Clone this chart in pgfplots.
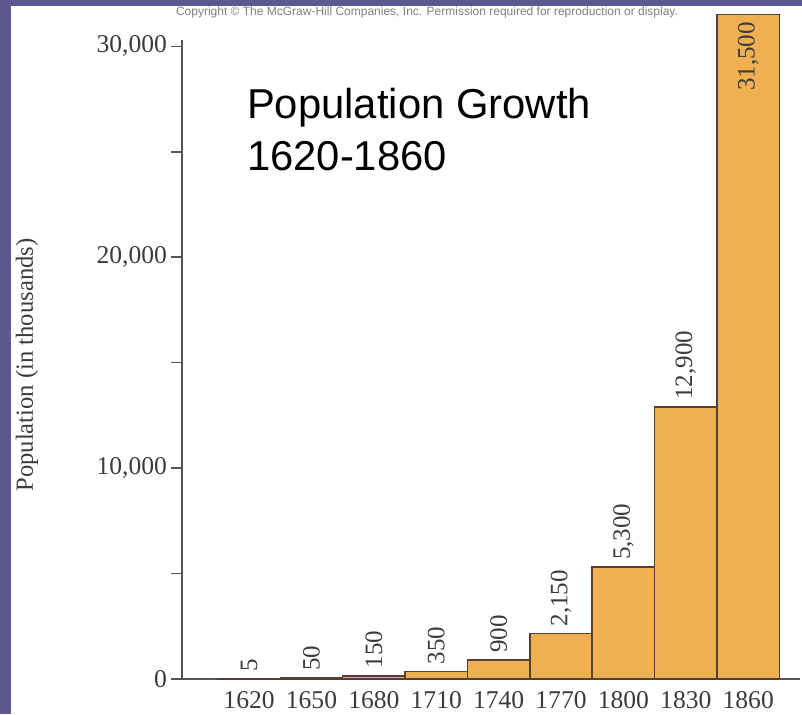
\documentclass[border=0pt]{standalone}
\usepackage{fontspec}
\setmainfont{Liberation Serif}
\newfontfamily\arialfont{Liberation Sans}
\usepackage{pgfplots}
\pgfplotsset{compat=1.18}

\definecolor{barfill}{RGB}{240,175,80}
\definecolor{barline}{RGB}{82,64,52}
\definecolor{slideframe}{RGB}{91,89,143}
\definecolor{axgray}{RGB}{85,85,85}
\definecolor{txtgray}{RGB}{60,60,60}

\begin{document}
\begin{tikzpicture}
\fill[white] (0pt,0pt) rectangle (401pt,357pt);
\fill[slideframe] (0pt,0pt) rectangle (5.5pt,357pt);
\fill[slideframe] (0pt,354pt) rectangle (401pt,357pt);
\path[use as bounding box] (0pt,0pt) rectangle (401pt,357pt);
\node[font=\arialfont\fontsize{6}{7}\selectfont, text=gray] at (213.5pt,351pt)
  {Copyright © The McGraw-Hill Companies, Inc. Permission required for reproduction or display.};
\node[rotate=90, font=\fontsize{12.3}{14}\selectfont, text=txtgray] at (13.5pt,174.5pt)
  {Population (in thousands)};
\begin{axis}[
    at={(91pt,17.5pt)}, anchor=south west,
    scale only axis, width=309pt, height=319.5pt,
    xmin=-1.075, xmax=8.83, ymin=0, ymax=30300,
    clip=false,
    axis x line=bottom, axis y line=left,
    axis line style={-, axgray, line width=0.75pt},
    xtick={0,...,8},
    xticklabels={1620,1650,1680,1710,1740,1770,1800,1830,1860},
    xtick style={draw=none},
    ytick={0,10000,20000,30000},
    minor ytick={5000,15000,25000},
    ytick style={axgray, line width=0.75pt},
    minor y tick style={axgray, line width=0.75pt},
    tick align=outside,
    major tick length=5.5pt, minor tick length=5.5pt,
    scaled y ticks=false,
    tick label style={font=\fontsize{12.8}{14}\selectfont, text=txtgray},
    xticklabel style={yshift=3pt},
    yticklabel style={xshift=1.5pt},
    /pgf/number format/.cd, assume math mode=true, 1000 sep={,}, fixed,
  ]
  % population in thousands; labels sit above the bars
  \addplot[ybar, bar width=1, bar shift=0pt, fill=barfill, draw=barline, line width=0.75pt,
    point meta=explicit symbolic, nodes near coords,
    every node near coord/.append style={rotate=90, anchor=west,
      font=\fontsize{12.5}{14}\selectfont, text=txtgray}]
    coordinates {(0,5) [5] (1,50) [50] (2,150) [150] (3,350) [350] (4,900) [900]
      (5,2150) [2,150] (6,5300) [5,300] (7,12900) [12,900]};
  % the tallest bar carries its label inside
  \addplot[ybar, bar width=1, bar shift=0pt, fill=barfill, draw=barline, line width=0.75pt,
    point meta=explicit symbolic, nodes near coords,
    every node near coord/.append style={rotate=90, anchor=east,
      font=\fontsize{12.5}{14}\selectfont, text=txtgray}]
    coordinates {(8,31500) [31,500]};
\end{axis}
\node[anchor=base west, font=\arialfont\fontsize{20.9}{24}\selectfont] at (120pt,298pt) {Population Growth};
\node[anchor=base west, font=\arialfont\fontsize{20.9}{24}\selectfont] at (120pt,272pt) {1620-1860};
\end{tikzpicture}
\end{document}
